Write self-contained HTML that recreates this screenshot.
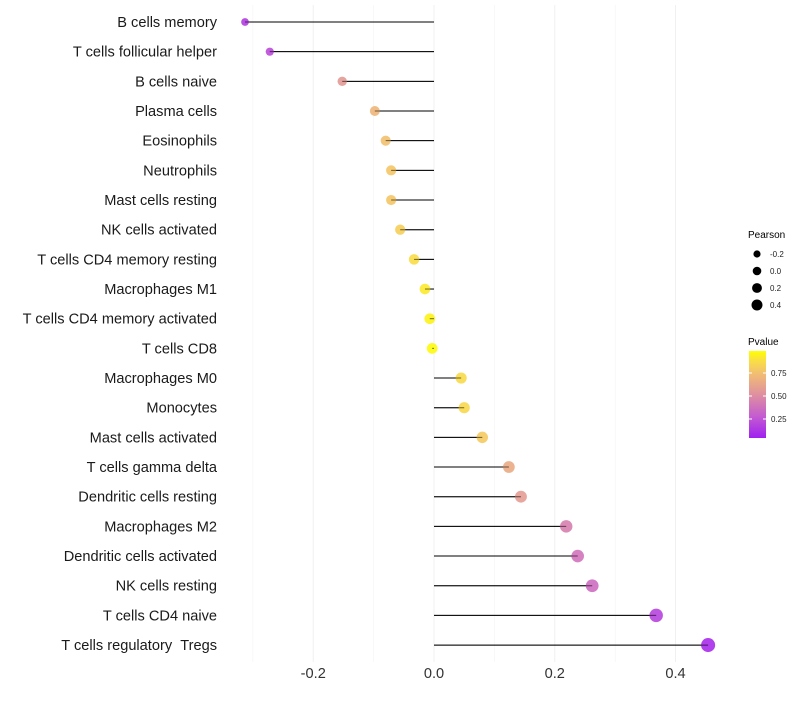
<!DOCTYPE html>
<html><head><meta charset="utf-8"><style>body{margin:0;background:#fff}svg{font-family:"Liberation Sans",sans-serif}</style></head>
<body>
<svg id="chart" width="800" height="700" xmlns="http://www.w3.org/2000/svg"></svg>
<script>
const categories=["B cells memory","T cells follicular helper","B cells naive","Plasma cells","Eosinophils","Neutrophils","Mast cells resting","NK cells activated","T cells CD4 memory resting","Macrophages M1","T cells CD4 memory activated","T cells CD8","Macrophages M0","Monocytes","Mast cells activated","T cells gamma delta","Dendritic cells resting","Macrophages M2","Dendritic cells activated","NK cells resting","T cells CD4 naive","T cells regulatory\u00a0\u00a0Tregs"];
const pearson=[-0.313,-0.272,-0.152,-0.098,-0.080,-0.071,-0.071,-0.056,-0.033,-0.015,-0.007,-0.003,0.045,0.050,0.080,0.124,0.144,0.219,0.238,0.262,0.368,0.454];
const pvalue=[0.12,0.18,0.55,0.7,0.75,0.78,0.78,0.82,0.88,0.93,0.96,0.98,0.87,0.86,0.8,0.64,0.57,0.42,0.36,0.33,0.15,0.05];
const xTicks=[-0.2,0.0,0.2,0.4];
const xTickLabels=["-0.2","0.0","0.2","0.4"];
const sizeLegend=[-0.2,0.0,0.2,0.4];
const sizeLegendLabels=["-0.2","0.0","0.2","0.4"];
const colorLegend=[0.25,0.5,0.75];
const colorLegendLabels=["0.25","0.50","0.75"];

const NS="http://www.w3.org/2000/svg";
const svg=document.getElementById('chart');
const X=v=>434+v*603.75;
const Y=i=>22+i*29.67;
const R=v=>Math.sqrt(Math.max(3,29+45*v));
const stops=[[0,[160,32,240]],[0.25,[196,92,208]],[0.5,[223,144,160]],[0.75,[242,192,112]],[0.9,[250,225,64]],[1,[255,255,0]]];
function col(p){for(let k=1;k<stops.length;k++){if(p<=stops[k][0]){const a=stops[k-1],b=stops[k];const t=(p-a[0])/(b[0]-a[0]);const c=a[1].map((x,j)=>Math.round(x+(b[1][j]-x)*t));return `rgb(${c})`;}}return 'rgb(255,255,0)';}
function mk(tag,attrs,parent){const e=document.createElementNS(NS,tag);for(const k in attrs)e.setAttribute(k,attrs[k]);(parent||svg).appendChild(e);return e;}

const grid=mk('g',{});


for(let k=-3;k<=4;k++){const v=k/10;const l=mk('line',{x1:X(v),x2:X(v),y1:5,y2:662,stroke:'#f0f0f0','stroke-width':k%2===0?1:0.5},grid);

}

categories.forEach((c,i)=>{
 const t=mk('text',{x:217,y:Y(i)+5,'text-anchor':'end','font-size':14.6,fill:'#1a1a1a'});t.textContent=c;
 
 
 const l=mk('line',{x1:X(0),x2:X(pearson[i]),y1:Y(i),y2:Y(i),stroke:'#000','stroke-width':1});
 
 
 const d=mk('circle',{cx:X(pearson[i]),cy:Y(i),r:R(pearson[i]),fill:col(pvalue[i]),'fill-opacity':0.9});
 
 
 const l2=mk('line',{x1:X(0),x2:X(pearson[i]),y1:Y(i),y2:Y(i),stroke:'#000','stroke-width':1,'stroke-opacity':0.5});
 
 
});
xTicks.forEach((v,i)=>{const t=mk('text',{x:X(v),y:678,'text-anchor':'middle','font-size':14.6,fill:'#333'});t.textContent=xTickLabels[i];
 
 });

const t1=mk('text',{x:748,y:238,'font-size':10,fill:'#000'});t1.textContent='Pearson';


sizeLegend.forEach((v,i)=>{const y=254+i*17;const c=mk('circle',{cx:757,cy:y,r:R(v)*0.8,fill:'#000'});
 
 
 const t=mk('text',{x:770,y:y+3,'font-size':8,fill:'#222'});t.textContent=sizeLegendLabels[i];
 
 });

const t2=mk('text',{x:748,y:345,'font-size':10,fill:'#000'});t2.textContent='Pvalue';


const defs=mk('defs',{});const g=mk('linearGradient',{id:'pg',x1:0,y1:1,x2:0,y2:0},defs);
stops.forEach(s=>mk('stop',{offset:s[0],'stop-color':`rgb(${s[1]})`},g));
const bar=mk('rect',{x:749,y:351,width:17,height:87,fill:'url(#pg)'});


const CY=p=>442-p*92;
colorLegend.forEach((p,i)=>{mk('line',{x1:749,x2:752,y1:CY(p),y2:CY(p),stroke:'#fff'});mk('line',{x1:763,x2:766,y1:CY(p),y2:CY(p),stroke:'#fff'});
 const t=mk('text',{x:771,y:CY(p)+3,'font-size':8,fill:'#222'});t.textContent=colorLegendLabels[i];
 
 });
</script>
</body></html>
